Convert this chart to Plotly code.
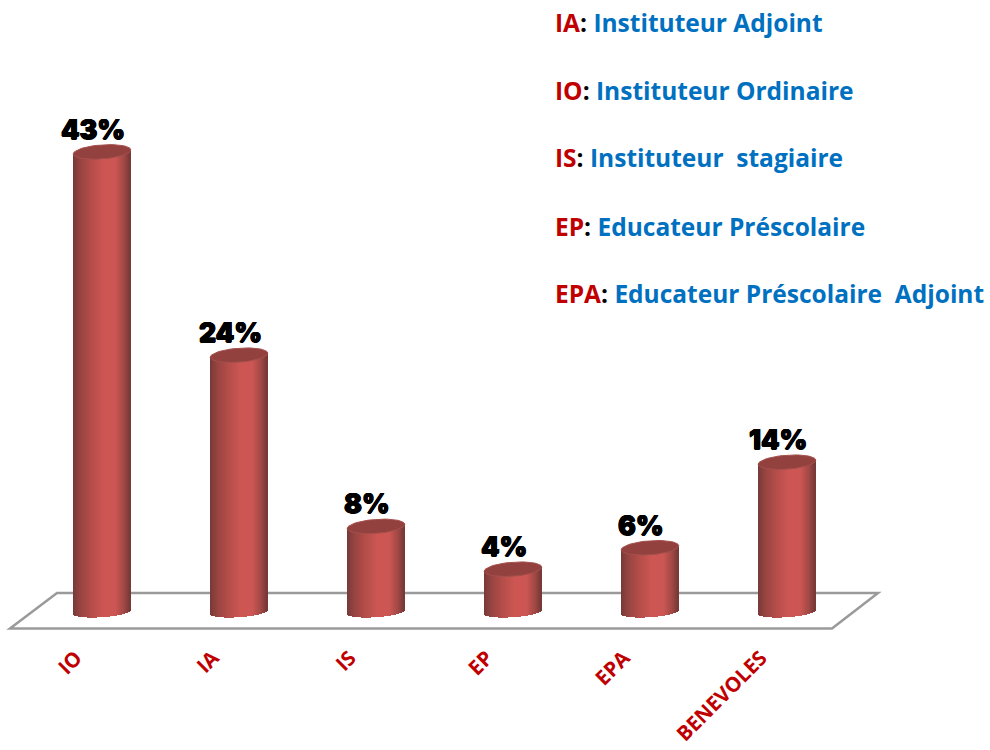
import math
import plotly.graph_objects as go

# Data
categories = ["IO", "IA", "IS", "EP", "EPA", "BENEVOLES"]
values = [43, 24, 8, 4, 6, 14]
legend_codes = ["IA", "IO", "IS", "EP", "EPA"]
legend_names = ["Instituteur Adjoint", "Instituteur Ordinaire", "Instituteur\u00a0 stagiaire",
                "Educateur Préscolaire", "Educateur Préscolaire\u00a0 Adjoint"]
legend_y_px = [22, 90, 158, 226, 293]

# Layout geometry in page pixels
W, H = 990, 750
PLOT_BOTTOM = 640  # px of the plot-area bottom
X0, DX = 102.0, 137.0   # px of first bar, px per category
Y0, DY = 612.0, 10.7    # px of zero, px per percent
BAR_W = 57.5 / DX
RY_TOP = 7 / DY
RY_BASE = 5.2 / DY
TILT = 2 / DY

xmin = -X0 / DX
xmax = (W - X0) / DX
ymax = Y0 / DY
ymin = (Y0 - PLOT_BOTTOM) / DY
positions = list(range(len(categories)))


def lerp(a, b, t):
    return a + (b - a) * t


def shade(u):
    """u in 0..1 across the cylinder: dark edges, bright just right of centre."""
    stops = [(0.0, (118, 58, 56)), (0.12, (150, 68, 65)), (0.32, (182, 78, 74)),
             (0.55, (206, 87, 84)), (0.75, (204, 86, 83)), (0.90, (160, 72, 69)),
             (1.0, (118, 56, 54))]
    for (u0, c0), (u1, c1) in zip(stops, stops[1:]):
        if u <= u1:
            f = (u - u0) / (u1 - u0)
            return "rgb(%d,%d,%d)" % tuple(lerp(c0[i], c1[i], f) for i in range(3))
    return "rgb(118,56,54)"


fig = go.Figure()

# Cylinders: overlapping thin bar strips make up the horizontal shading
N = 58
sw = BAR_W / N
for k in range(N):
    u = (k + 0.5) / N
    t = 2 * u - 1
    base = -RY_BASE * math.sqrt(max(0, 1 - t * t)) + TILT * t
    tops = [v + TILT * t for v in values]
    fig.add_trace(go.Bar(
        x=positions,
        y=[tp - base for tp in tops],
        base=[base] * len(values),
        width=sw * 1.1,
        offset=-BAR_W / 2 + k * sw,
        marker=dict(color=shade(u), line=dict(width=0)),
        showlegend=False, hoverinfo="skip",
    ))

# Top ellipses of the cylinders
for p, v in zip(positions, values):
    xs, ys = [], []
    for d in range(0, 361, 6):
        a = math.radians(d)
        xs.append(p + BAR_W / 2 * math.cos(a))
        ys.append(v + RY_TOP * math.sin(a) + TILT * math.cos(a))
    fig.add_trace(go.Scatter(x=xs, y=ys, mode="lines", fill="toself",
                             fillcolor="#92413f", line=dict(color="#a5504d", width=1),
                             showlegend=False, hoverinfo="skip"))


def px(x):
    return x / W


def py(y):
    return (PLOT_BOTTOM - y) / PLOT_BOTTOM


# Floor parallelogram
floor = [(10, 628.5), (57, 593), (878, 593), (832, 628.5)]
path = "M " + " L ".join(f"{px(a):.5f} {py(b):.5f}" for a, b in floor) + " Z"
shapes = [dict(type="path", xref="paper", yref="paper", path=path, layer="below",
               line=dict(color="#9a9a9a", width=2.5), fillcolor="white")]

annotations = []
# Value labels
for p, v in zip(positions, values):
    annotations.append(dict(
        x=p, y=v, xref="x", yref="y", text=f"{v}%", showarrow=False,
        xanchor="center", yanchor="middle", xshift=-9, yshift=23,
        font=dict(family="Inter", size=26.5, color="black", weight=900,
                  shadow="0.6px 0 0 #000, -0.6px 0 0 #000, 0 0.5px 0 #000, 0 -0.5px 0 #000"),
    ))

# Abbreviation key
for code, name, yp in zip(legend_codes, legend_names, legend_y_px):
    annotations.append(dict(
        x=px(553), y=py(yp), xref="paper", yref="paper", showarrow=False,
        xanchor="left", yanchor="middle", align="left",
        text=f'<b><span style="color:#c00000">{code}</span>'
             f'<span style="color:#000000">:</span> '
             f'<span style="color:#0070c0">{name}</span></b>',
        font=dict(family="Open Sans", size=24.5),
    ))

fig.update_layout(
    width=W, height=H, autosize=False,
    margin=dict(l=0, r=0, t=0, b=H - PLOT_BOTTOM, pad=0),
    paper_bgcolor="white", plot_bgcolor="rgba(0,0,0,0)",
    barmode="overlay", bargap=0, showlegend=False,
    shapes=shapes, annotations=annotations,
    xaxis=dict(range=[xmin, xmax], tickmode="array", tickvals=positions, ticktext=categories,
               tickangle=-45, ticklabelshift=-26, ticklabelstandoff=1, automargin=False,
               showgrid=False, zeroline=False, showline=False, ticks="",
               tickfont=dict(family="Open Sans", size=20.5, color="#c00000", weight="bold")),
    yaxis=dict(range=[ymin, ymax], visible=False, automargin=False),
)

fig.write_html(
    "out.html",
    config={"displayModeBar": False},
    post_script="document.body.style.margin='0';document.documentElement.style.overflow='hidden';",
)
